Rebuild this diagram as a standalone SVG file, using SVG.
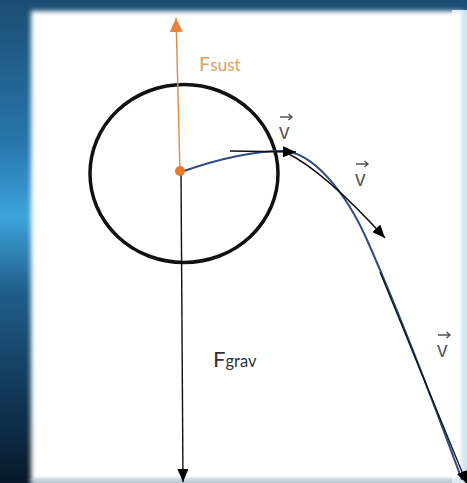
<svg xmlns="http://www.w3.org/2000/svg" width="467" height="483" viewBox="0 0 467 483">
<defs>
<linearGradient id="bg" x1="0" y1="0" x2="0" y2="1">
<stop offset="0" stop-color="#1b4d72"/>
<stop offset="0.3" stop-color="#2776ad"/>
<stop offset="0.45" stop-color="#3ea3db"/>
<stop offset="0.6" stop-color="#1f5f8c"/>
<stop offset="0.8" stop-color="#123a5a"/>
<stop offset="1" stop-color="#07182a"/>
</linearGradient>
<filter id="blur" x="-5%" y="-5%" width="110%" height="110%"><feGaussianBlur stdDeviation="2.5"/></filter>
<marker id="ah" viewBox="0 0 13 11" refX="13" refY="5.5" markerWidth="13" markerHeight="11" markerUnits="userSpaceOnUse" orient="auto"><path d="M0,0 L13,5.5 L0,11 z" fill="#000"/></marker>
<marker id="aho" viewBox="0 0 14 13" refX="14" refY="6.5" markerWidth="14" markerHeight="13" markerUnits="userSpaceOnUse" orient="auto"><path d="M0,0 L14,6.5 L0,13 z" fill="#e8843a"/></marker>
<style>
.lbl{font-family:Lato,"Open Sans","DejaVu Sans",sans-serif;}
.v{font-family:"Open Sans",Lato,"DejaVu Sans",sans-serif;font-size:21px;fill:#555;}
.varr{stroke:#555;stroke-width:1.4;fill:none;}
</style>
</defs>
<g id="background">
<rect x="0" y="0" width="467" height="483" fill="url(#bg)"/>
<rect x="452" y="10" width="15" height="473" fill="#c7deec"/>
<rect x="31" y="11" width="432" height="470" fill="#ffffff" filter="url(#blur)"/>
<rect x="462" y="14" width="5" height="469" fill="#d4e6f1" filter="url(#blur)"/>
<rect x="31" y="479" width="436" height="6" fill="#dde9f1" filter="url(#blur)"/>
</g>
<g id="ball">
<ellipse cx="184" cy="173.5" rx="94" ry="89" fill="none" stroke="#111" stroke-width="3.5"/>
</g>
<g id="connectors">
<path id="trajectory" d="M181,172 C215,160 250,151 283,151 C312,152 345,190 368,242 C400,315 440,420 462,480" fill="none" stroke="#2b4a82" stroke-width="2"/>
<line id="f-sust" x1="180" y1="171" x2="176" y2="18" stroke="#e38a3f" stroke-width="1.4" marker-end="url(#aho)"/>
<line id="f-grav" x1="181" y1="172" x2="183" y2="482" stroke="#111" stroke-width="1.4" marker-end="url(#ah)"/>
<line id="v1" x1="230" y1="151" x2="296" y2="152" stroke="#111" stroke-width="1.4" marker-end="url(#ah)"/>
<path id="v2" d="M287,153 Q325,172 385,238" fill="none" stroke="#111" stroke-width="1.4" marker-end="url(#ah)"/>
<line id="v3" x1="380" y1="272" x2="467" y2="484" stroke="#111" stroke-width="1.3" marker-end="url(#ah)"/>
</g>
<g id="center">
<circle cx="180" cy="171" r="5" fill="#e8792a"/>
</g>
<g id="label-fsust">
<text class="lbl" x="199" y="71" fill="#e0a060"><tspan font-size="20">F</tspan><tspan font-size="17">sust</tspan></text>
</g>
<g id="label-fgrav">
<text class="lbl" x="213" y="367" fill="#333"><tspan font-size="22">F</tspan><tspan font-size="16.5">grav</tspan></text>
</g>
<g id="label-v1">
<text class="v" x="279" y="139">v</text>
<path class="varr" d="M280,117 H292 M288.5,114 L292,117 L288.5,120"/>
</g>
<g id="label-v2">
<text class="v" x="355" y="186">v</text>
<path class="varr" d="M356,164 H368 M364.5,161 L368,164 L364.5,167"/>
</g>
<g id="label-v3">
<text class="v" x="437" y="357">v</text>
<path class="varr" d="M438,335 H450 M446.5,332 L450,335 L446.5,338"/>
</g>
</svg>
